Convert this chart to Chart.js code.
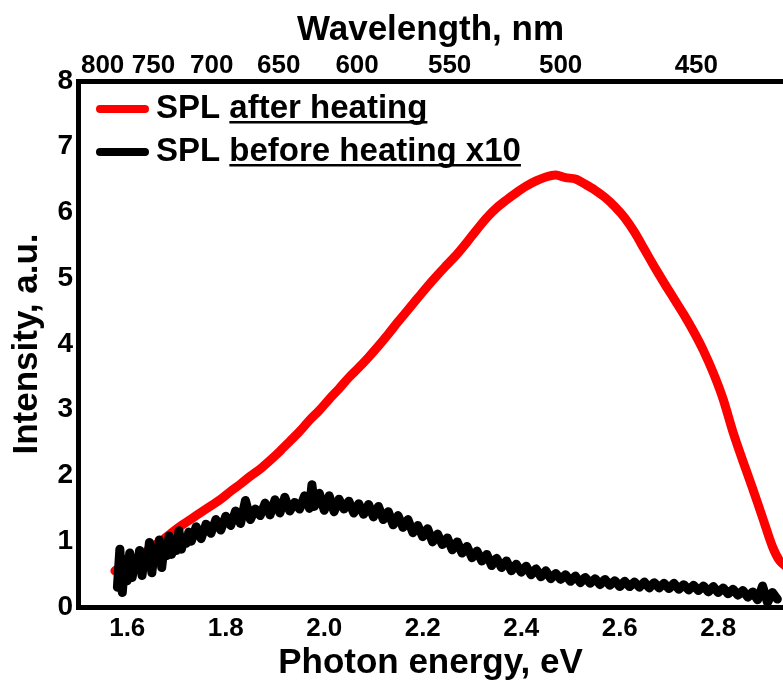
<!DOCTYPE html>
<html>
<head>
<meta charset="utf-8">
<script src="https://cdn.jsdelivr.net/npm/chart.js@4.4.1/dist/chart.umd.min.js"></script>
<style>
  html, body { margin: 0; padding: 0; background: #fff; }
</style>
</head>
<body>
<canvas id="splChart" width="783" height="680"></canvas>
<script>
// Bottom axis ticks (eV) and top axis ticks (nm)
const energyTicks = [1.6, 1.8, 2.0, 2.2, 2.4, 2.6, 2.8];
const wavelengthTicks = [800, 750, 700, 650, 600, 550, 500, 450];
const intensityTicks = [0, 1, 2, 3, 4, 5, 6, 7, 8];

// SPL after heating (red)
const redEnergy = [1.575, 1.59, 1.61, 1.63, 1.65, 1.67, 1.69, 1.71, 1.73, 1.75, 1.77, 1.79, 1.81, 1.83, 1.85,
  1.87, 1.89, 1.91, 1.93, 1.95, 1.97, 1.99, 2.01, 2.03, 2.05, 2.07, 2.09, 2.11, 2.13, 2.15, 2.17, 2.19,
  2.21, 2.23, 2.25, 2.27, 2.29, 2.31, 2.33, 2.35, 2.37, 2.39, 2.41, 2.43, 2.45, 2.47, 2.49, 2.51, 2.53,
  2.55, 2.57, 2.59, 2.61, 2.63, 2.65, 2.67, 2.69, 2.71, 2.73, 2.75, 2.77, 2.79, 2.81, 2.83, 2.85, 2.87,
  2.89, 2.91, 2.925, 2.94];
const redIntensity = [0.55, 0.62, 0.71, 0.80, 0.91, 1.01, 1.13, 1.24, 1.34, 1.44, 1.54, 1.64, 1.76, 1.87, 1.99,
  2.10, 2.23, 2.37, 2.52, 2.67, 2.84, 2.99, 3.16, 3.32, 3.49, 3.64, 3.80, 3.97, 4.15, 4.34, 4.52, 4.70,
  4.88, 5.05, 5.21, 5.37, 5.55, 5.74, 5.92, 6.07, 6.19, 6.30, 6.40, 6.48, 6.54, 6.57, 6.53, 6.51, 6.43,
  6.34, 6.23, 6.09, 5.92, 5.70, 5.44, 5.18, 4.93, 4.69, 4.45, 4.19, 3.90, 3.56, 3.16, 2.66, 2.22, 1.80,
  1.36, 0.92, 0.70, 0.60];

// SPL before heating x10 (black, noisy)
const blackEnergy = [1.580, 1.585, 1.590, 1.595, 1.600, 1.605, 1.610, 1.615, 1.620, 1.625, 1.630, 1.635,
  1.640, 1.645, 1.650, 1.655, 1.660, 1.665, 1.670, 1.675, 1.680, 1.685, 1.690, 1.695, 1.700, 1.705,
  1.710, 1.715, 1.720, 1.725, 1.730, 1.740, 1.750, 1.760, 1.770, 1.780, 1.790, 1.800, 1.810, 1.820,
  1.830, 1.840, 1.850, 1.860, 1.870, 1.880, 1.890, 1.900, 1.910, 1.920, 1.930, 1.940, 1.950, 1.960,
  1.970, 1.975, 1.980, 1.990, 2.000, 2.010, 2.020, 2.030, 2.040, 2.050, 2.060, 2.070, 2.080, 2.090,
  2.100, 2.110, 2.120, 2.130, 2.140, 2.150, 2.160, 2.170, 2.180, 2.190, 2.200, 2.210, 2.220, 2.230,
  2.240, 2.250, 2.260, 2.270, 2.280, 2.290, 2.300, 2.310, 2.320, 2.330, 2.340, 2.350, 2.360, 2.370,
  2.380, 2.390, 2.400, 2.410, 2.420, 2.430, 2.440, 2.450, 2.460, 2.470, 2.480, 2.490, 2.500, 2.510,
  2.520, 2.530, 2.540, 2.550, 2.560, 2.570, 2.580, 2.590, 2.600, 2.610, 2.620, 2.630, 2.640, 2.650,
  2.660, 2.670, 2.680, 2.690, 2.700, 2.710, 2.720, 2.730, 2.740, 2.750, 2.760, 2.770, 2.780, 2.790,
  2.800, 2.810, 2.820, 2.830, 2.840, 2.850, 2.860, 2.870, 2.880, 2.890, 2.900, 2.910, 2.920];
const blackIntensity = [0.30, 0.88, 0.22, 0.72, 0.40, 0.82, 0.45, 0.70, 0.58, 0.86, 0.48, 0.78,
  0.62, 0.98, 0.52, 0.88, 0.72, 1.02, 0.60, 0.95, 0.78, 1.08, 0.80, 0.92, 0.86, 1.16,
  0.88, 1.04, 0.97, 1.14, 1.00, 1.22, 1.04, 1.26, 1.12, 1.33, 1.17, 1.38, 1.24, 1.46,
  1.27, 1.62, 1.33, 1.49, 1.39, 1.58, 1.40, 1.63, 1.43, 1.67, 1.46, 1.59, 1.49, 1.69,
  1.50, 1.86, 1.53, 1.73, 1.47, 1.69, 1.45, 1.64, 1.49, 1.61, 1.43, 1.57, 1.41, 1.56,
  1.37, 1.53, 1.33, 1.45, 1.25, 1.39, 1.21, 1.33, 1.13, 1.24, 1.07, 1.19, 0.99, 1.11,
  0.95, 1.05, 0.87, 0.99, 0.82, 0.92, 0.75, 0.85, 0.70, 0.80, 0.63, 0.74, 0.60, 0.70,
  0.55, 0.65, 0.53, 0.62, 0.49, 0.58, 0.46, 0.55, 0.43, 0.51, 0.42, 0.49, 0.39, 0.47,
  0.37, 0.45, 0.36, 0.43, 0.34, 0.42, 0.33, 0.40, 0.31, 0.39, 0.31, 0.38, 0.30, 0.38,
  0.29, 0.37, 0.29, 0.36, 0.28, 0.36, 0.27, 0.34, 0.26, 0.33, 0.25, 0.32, 0.23, 0.31,
  0.22, 0.29, 0.20, 0.27, 0.18, 0.25, 0.15, 0.23, 0.11, 0.32, 0.07, 0.22, 0.12];

const legendPrefix = 'SPL';
const legendLabels = ['after heating', 'before heating x10'];
const seriesColors = ['#ff0000', '#000000'];

const FONT = '"Liberation Sans", Arial, Helvetica, sans-serif';
const toPoints = (xs, ys) => xs.map((x, i) => ({ x: x, y: ys[i] }));

// legend with underlined part, drawn straight on the canvas
const underlinedLegend = {
  id: 'underlinedLegend',
  afterDatasetsDraw(chart) {
    const ctx = chart.ctx;
    const rows = [109, 152];
    ctx.save();
    ctx.font = 'bold 33px ' + FONT;
    ctx.textBaseline = 'alphabetic';
    legendLabels.forEach((label, i) => {
      const y = rows[i];
      ctx.strokeStyle = seriesColors[i];
      ctx.lineWidth = 8;
      ctx.lineCap = 'round';
      ctx.beginPath();
      ctx.moveTo(100, y);
      ctx.lineTo(145, y);
      ctx.stroke();

      ctx.fillStyle = '#000';
      const base = y + 9;
      ctx.fillText(legendPrefix, 156, base);
      const startX = 156 + ctx.measureText(legendPrefix + ' ').width;
      ctx.fillText(label, startX, base);
      const w = ctx.measureText(label).width;
      ctx.fillRect(startX, base + 3, w, 2.5);
    });
    ctx.restore();
  }
};

const tickFont = { family: FONT, size: 26, weight: 'bold' };
const titleFont = { family: FONT, size: 35, weight: 'bold' };

new Chart(document.getElementById('splChart'), {
  type: 'line',
  data: {
    datasets: [{
      label: legendPrefix + ' ' + legendLabels[0],
      data: toPoints(redEnergy, redIntensity),
      borderColor: seriesColors[0],
      borderWidth: 9,
      pointRadius: 0,
      tension: 0.3,
      borderJoinStyle: 'round',
      borderCapStyle: 'round',
      order: 1
    }, {
      label: legendPrefix + ' ' + legendLabels[1],
      data: toPoints(blackEnergy, blackIntensity),
      borderColor: seriesColors[1],
      borderWidth: 9,
      pointRadius: 0,
      tension: 0,
      borderJoinStyle: 'round',
      borderCapStyle: 'round',
      order: 0
    }]
  },
  options: {
    responsive: false,
    animation: false,
    layout: { padding: 0 },
    plugins: {
      legend: { display: false },
      tooltip: { enabled: false }
    },
    scales: {
      x: {
        type: 'linear',
        position: 'bottom',
        min: 1.5,
        max: 2.9315,
        afterBuildTicks: (s) => { s.ticks = energyTicks.map(v => ({ value: v })); },
        afterFit: (s) => { s.height = 73; },
        ticks: {
          autoSkip: false, maxRotation: 0, padding: 6, color: '#000', font: tickFont,
          callback: (v) => Number(v).toFixed(1)
        },
        grid: { display: false, drawTicks: false },
        border: { display: true, color: '#000', width: 5 },
        title: { display: true, text: 'Photon energy, eV', color: '#000', font: titleFont, padding: { top: 0, bottom: -4 } }
      },
      x2: {
        type: 'linear',
        axis: 'x',
        position: 'top',
        min: 1.5,
        max: 2.9315,
        afterBuildTicks: (s) => { s.ticks = wavelengthTicks.map(w => ({ value: 1240 / w })); },
        afterFit: (s) => { s.height = 81; },
        ticks: {
          autoSkip: false, maxRotation: 0, padding: 0, color: '#000', font: tickFont,
          callback: (v) => Math.round(1240 / v)
        },
        grid: { display: false, drawTicks: false },
        border: { display: true, color: '#000', width: 5 },
        title: { display: true, text: 'Wavelength, nm', color: '#000', font: titleFont, padding: { top: 9, bottom: 0 } }
      },
      y: {
        min: 0,
        max: 8,
        afterBuildTicks: (s) => { s.ticks = intensityTicks.map(v => ({ value: v })); },
        afterFit: (s) => { s.width = 78; },
        ticks: { padding: 5, color: '#000', font: { family: FONT, size: 28, weight: 'bold' } },
        grid: { display: false, drawTicks: false },
        border: { display: true, color: '#000', width: 5 },
        title: { display: true, text: 'Intensity, a.u.', color: '#000', font: titleFont, padding: { top: 6, bottom: 0 } }
      }
    }
  },
  plugins: [underlinedLegend]
});
</script>
</body>
</html>
